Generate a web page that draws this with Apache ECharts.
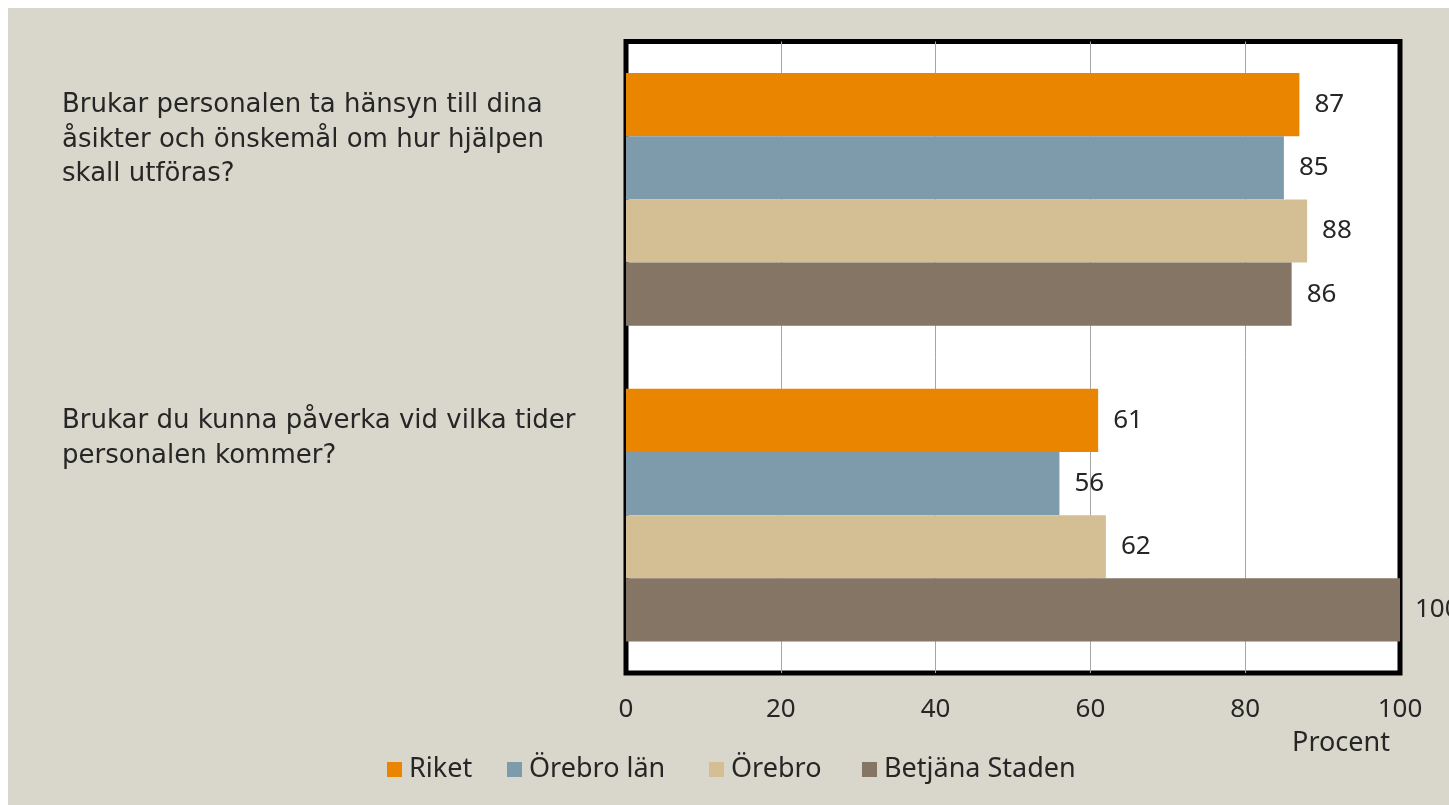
<!DOCTYPE html>
<html>
<head>
<meta charset="utf-8">
<script src="https://cdn.jsdelivr.net/npm/echarts@6/dist/echarts.min.js"></script>
<style>
  html, body { margin: 0; padding: 0; background: #ffffff; }
  #chart { position: absolute; left: 8px; top: 8px; width: 1441px; height: 797px; }
</style>
</head>
<body>
<div id="chart"></div>
<script>
const categories = [
  "Brukar personalen ta hänsyn till dina\nåsikter och önskemål om hur hjälpen\nskall utföras?",
  "Brukar du kunna påverka vid vilka tider\npersonalen kommer?"
];
const seriesNames = ["Riket", "Örebro län", "Örebro", "Betjäna Staden"];
const riket = [87, 61];
const orebroLan = [85, 56];
const orebro = [88, 62];
const betjanaStaden = [86, 100];
const xTicks = [0, 20, 40, 60, 80, 100];
const axisName = "Procent";

const colors = ["#EA8500", "#7E9BAC", "#D4BF95", "#857564"];
const FONT = "Noto Sans";
const WIDE = "DejaVu Sans";
const allValues = [riket, orebroLan, orebro, betjanaStaden];
const legendLefts = [379, 499, 701, 854];

const chart = echarts.init(document.getElementById('chart'));
chart.setOption({
  backgroundColor: '#D9D7CB',
  animation: false,
  textStyle: { fontFamily: FONT },
  legend: seriesNames.map((name, i) => ({
    data: [name],
    left: legendLefts[i],
    top: 748,
    padding: 0,
    icon: 'rect',
    itemWidth: 15,
    itemHeight: 15,
    textStyle: { fontFamily: FONT, fontSize: 27, color: '#262626', padding: [0, 0, 0, 2] }
  })),
  grid: {
    left: 618, right: 49, top: 33.5, bottom: 132,
    show: true,
    backgroundColor: '#ffffff',
    borderColor: '#000000',
    borderWidth: 5,
    containLabel: false
  },
  xAxis: {
    type: 'value',
    min: xTicks[0],
    max: xTicks[xTicks.length - 1],
    interval: xTicks[1] - xTicks[0],
    axisLine: { show: false },
    axisTick: { show: false },
    splitLine: { show: true, showMinLine: false, showMaxLine: false, lineStyle: { color: '#A6A6A6', width: 1 } },
    axisLabel: { margin: 24, fontFamily: FONT, fontSize: 26, color: '#262626' },
    name: axisName,
    nameLocation: 'end',
    nameGap: -59,
    nameTextStyle: { fontFamily: FONT, fontSize: 27, color: '#262626', align: 'center', verticalAlign: 'top', padding: [57, 0, 0, 0] }
  },
  yAxis: {
    type: 'category',
    data: categories,
    inverse: true,
    axisLine: { show: false },
    axisTick: { show: false },
    axisLabel: {
      interval: 0,
      margin: 564,
      align: 'left',
      verticalAlign: 'top',
      lineHeight: 34.5,
      padding: [-111, 0, 0, 0],
      fontFamily: WIDE,
      fontSize: 26,
      color: '#262626'
    }
  },
  series: seriesNames.map((name, i) => ({
    name: name,
    type: 'bar',
    data: allValues[i],
    barGap: '0%',
    barCategoryGap: '20%',
    itemStyle: { color: colors[i] },
    label: {
      show: true,
      position: 'right',
      distance: 15,
      fontFamily: FONT,
      fontSize: 26,
      color: '#262626'
    }
  }))
});
</script>
</body>
</html>
